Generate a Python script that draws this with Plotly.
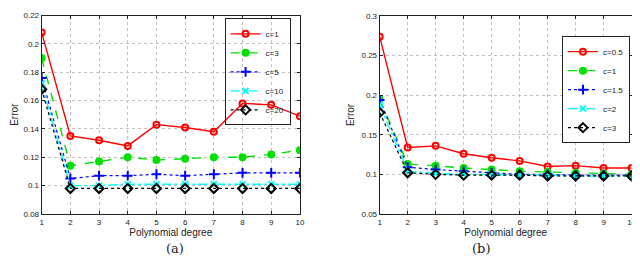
import plotly.graph_objects as go

degree = [1, 2, 3, 4, 5, 6, 7, 8, 9, 10]

# Panel (a)
a_labels = ["c=1", "c=3", "c=5", "c=10", "c=20"]
a_c1 = [0.208, 0.135, 0.132, 0.128, 0.143, 0.141, 0.138, 0.158, 0.157, 0.149]
a_c3 = [0.190, 0.114, 0.117, 0.120, 0.118, 0.119, 0.120, 0.120, 0.122, 0.125]
a_c5 = [0.176, 0.105, 0.107, 0.107, 0.108, 0.107, 0.108, 0.109, 0.109, 0.109]
a_c10 = [0.172, 0.100, 0.100, 0.101, 0.101, 0.101, 0.101, 0.101, 0.101, 0.101]
a_c20 = [0.168, 0.098, 0.098, 0.098, 0.098, 0.098, 0.098, 0.098, 0.098, 0.098]
a_yticks = [0.08, 0.1, 0.12, 0.14, 0.16, 0.18, 0.2, 0.22]

# Panel (b)
b_labels = ["c=0.5", "c=1", "c=1.5", "c=2", "c=3"]
b_c05 = [0.274, 0.134, 0.136, 0.126, 0.121, 0.117, 0.110, 0.111, 0.108, 0.108]
b_c1 = [0.195, 0.113, 0.111, 0.108, 0.106, 0.104, 0.103, 0.102, 0.101, 0.100]
b_c15 = [0.194, 0.109, 0.106, 0.104, 0.102, 0.100, 0.100, 0.099, 0.099, 0.099]
b_c2 = [0.188, 0.104, 0.101, 0.100, 0.100, 0.099, 0.099, 0.098, 0.098, 0.098]
b_c3 = [0.178, 0.102, 0.100, 0.099, 0.099, 0.099, 0.098, 0.098, 0.098, 0.098]
b_yticks = [0.05, 0.1, 0.15, 0.2, 0.25, 0.3]

styles = [
    dict(color="#ff0000", dash="solid", symbol="circle-open", msize=6, w=1.4),
    dict(color="#00e000", dash="dash", symbol="circle", msize=6, w=1.4),
    dict(color="#0000ff", dash="dot", symbol="cross-thin-open", msize=7, w=1.2),
    dict(color="#00ffff", dash="dashdot", symbol="x-thin-open", msize=6, w=1.4),
    dict(color="#000000", dash="dot", symbol="diamond-open", msize=7, w=1.2),
]

fig = go.Figure()

def add_panel(series, labels, xa, ya, legend):
    for s, lab, st in zip(series, labels, styles):
        fig.add_trace(go.Scatter(
            x=degree, y=s, name=lab, mode="lines+markers",
            xaxis=xa, yaxis=ya, legend=legend,
            line=dict(color=st["color"], dash=st["dash"], width=st["w"]),
            marker=dict(symbol=st["symbol"], size=st["msize"], color=st["color"],
                        line=dict(color=st["color"], width=2)),
        ))

add_panel([a_c1, a_c3, a_c5, a_c10, a_c20], a_labels, "x", "y", "legend")
add_panel([b_c05, b_c1, b_c15, b_c2, b_c3], b_labels, "x2", "y2", "legend2")

tick_font = dict(family="Liberation Sans, Arial, sans-serif", size=8, color="#222")
title_font = dict(family="Liberation Sans, Arial, sans-serif", size=10, color="#222")
axis_common = dict(
    showline=True, linecolor="#222", linewidth=1, mirror="ticks",
    ticks="inside", ticklen=3, tickcolor="#222",
    showgrid=True, gridcolor="#c0c0c0", griddash="dot", gridwidth=1,
    zeroline=False, tickfont=tick_font, ticklabeloverflow="allow",
)

fig.update_layout(
    width=640, height=263,
    margin=dict(l=0, r=0, t=0, b=0),
    paper_bgcolor="white", plot_bgcolor="white",
    font=dict(family="Liberation Sans, Arial, sans-serif", size=9, color="#222"),
    showlegend=True,
    xaxis=dict(domain=[0.05, 0.458], range=[1, 10], tickvals=degree, anchor="y",
               title=dict(text="Polynomial degree", standoff=2, font=title_font), **axis_common),
    yaxis=dict(domain=[0.205, 0.986], range=[0.08, 0.22], tickvals=a_yticks, anchor="x",
               tickformat="~g",
               title=dict(text="Error", standoff=2, font=title_font), **axis_common),
    xaxis2=dict(domain=[0.584, 0.982], range=[1, 10], tickvals=degree, anchor="y2",
                title=dict(text="Polynomial degree", standoff=2, font=title_font), **axis_common),
    yaxis2=dict(domain=[0.205, 0.984], range=[0.05, 0.3], tickvals=b_yticks, anchor="x2",
                tickformat="~g",
                title=dict(text="Error", standoff=4, font=title_font), **axis_common),
    legend=dict(x=0.339, y=0.975, xanchor="left", yanchor="top",
                bgcolor="rgba(255,255,255,0)", bordercolor="#222", borderwidth=1,
                font=dict(size=8), tracegroupgap=0, itemwidth=30),
    legend2=dict(x=0.872, y=0.905, xanchor="left", yanchor="top",
                 bgcolor="white", bordercolor="#222", borderwidth=1,
                 font=dict(size=8), tracegroupgap=0, itemwidth=30),
    annotations=[
        dict(text="(a)", x=0.243, y=1 - 255 / 263, xref="paper", yref="paper", showarrow=False,
             font=dict(family="DejaVu Serif, Liberation Serif, serif", size=13, color="#222")),
        dict(text="(b)", x=0.761, y=1 - 255 / 263, xref="paper", yref="paper", showarrow=False,
             font=dict(family="DejaVu Serif, Liberation Serif, serif", size=13, color="#222")),
    ],
)

fig.write_html("out.html")
